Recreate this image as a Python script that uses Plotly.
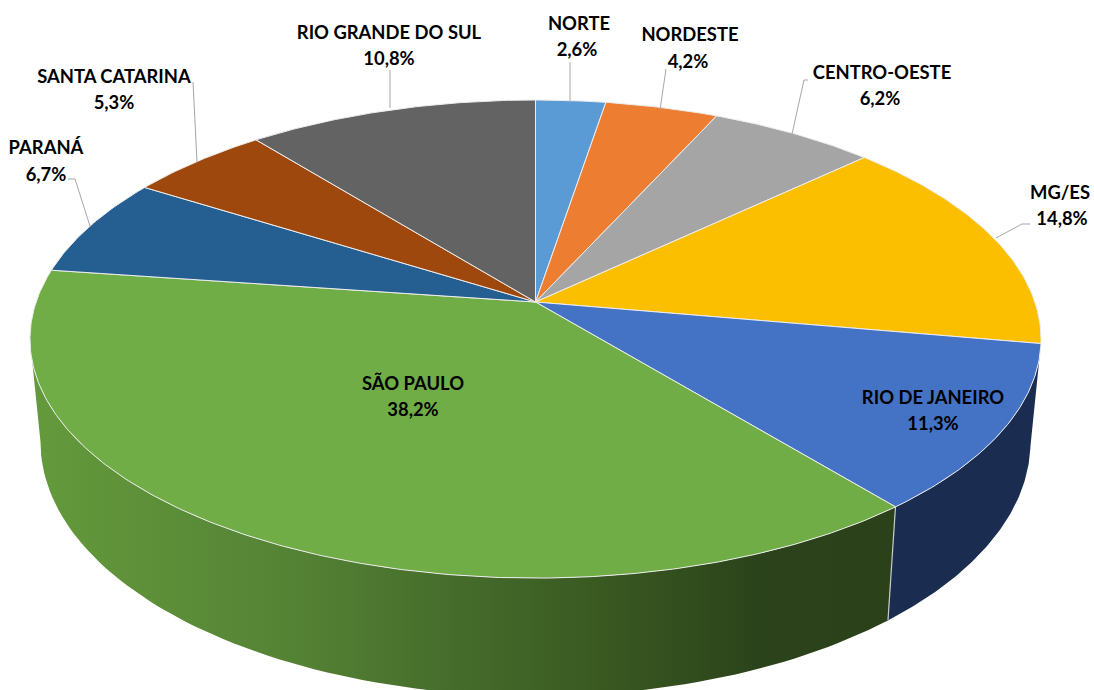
import numpy as np
import plotly.graph_objects as go

# ---- data ----
categories = ["NORTE", "NORDESTE", "CENTRO-OESTE", "MG/ES", "RIO DE JANEIRO",
              "SÃO PAULO", "PARANÁ", "SANTA CATARINA", "RIO GRANDE DO SUL"]
values = [2.6, 4.2, 6.2, 14.8, 11.3, 38.2, 6.7, 5.3, 10.8]
colors = ["#5B9BD5", "#ED7D31", "#A5A5A5", "#FBBF00", "#4472C4",
          "#70AD47", "#255E91", "#9E480E", "#636363"]
name_pos = [(579, 25), (690, 36), (882, 74), (1060, 194), (933, 399),
            (413, 385), (46, 149), (114, 78), (389, 34)]
pct_pos = [(577, 51), (688, 63), (880, 100), (1062, 220), (933, 425),
           (413, 411), (46, 176), (114, 104), (389, 60)]
leaders = [[(570, 62), (570, 102)],
           [(666, 69), (660, 110)],
           [(808, 80), (804, 80), (792, 134)],
           [(1030, 224), (1022, 224), (996, 238)],
           [(193, 82), (197, 162)],
           [(68, 179), (75, 179), (90, 226)],
           [(390, 70), (390, 108)]]

# ---- perspective of the disc ----
CX, K = 535.5, 0.155
TOP = dict(a=499.4, b=233.3, y0=302.0)
BOT = dict(a=489.0, b=248.0, y0=402.6)


def ring(theta_deg, d):
    t = np.radians(theta_deg)
    u, v = np.sin(t), -np.cos(t)
    w = 1 - K * v
    return CX + d["a"] * u / w, d["y0"] + d["b"] * v / w


edges = np.cumsum([0] + values) / sum(values) * 360
RIM = "#EDEDED"
fig = go.Figure()


def side(t0, t1, **kw):
    th = np.linspace(t0, t1, 90)
    xa, ya = ring(th, TOP)
    xb, yb = ring(th[::-1], BOT)
    fig.add_trace(go.Scatter(x=np.r_[xa, xb, xa[0]], y=np.r_[ya, yb, ya[0]], mode="lines",
                             fill="toself", line=dict(width=0), hoverinfo="skip",
                             showlegend=False, **kw))


rio = categories.index("RIO DE JANEIRO")
sp = categories.index("SÃO PAULO")
side(edges[rio], edges[rio + 1], fillcolor="#1A2D50")
side(edges[sp], 261.0, fillgradient=dict(
    type="horizontal",
    colorscale=[[0, "#649A3C"], [0.3, "#558335"], [0.5, "#456B2B"], [0.65, "#3A5A22"],
                [0.85, "#2B421A"], [1, "#2B411A"]]))

# split between the two visible side walls
xs = [ring(edges[sp], TOP)[0], ring(edges[sp], BOT)[0]]
ys = [ring(edges[sp], TOP)[1], ring(edges[sp], BOT)[1]]
fig.add_trace(go.Scatter(x=xs, y=ys, mode="lines", line=dict(color="#C8C8C8", width=1.2),
                         hoverinfo="skip", showlegend=False))

# top face
ax, ay = CX, TOP["y0"]
for i, cat in enumerate(categories):
    th = np.linspace(edges[i], edges[i + 1], max(8, int(values[i] * 6)))
    x, y = ring(th, TOP)
    fig.add_trace(go.Scatter(x=np.r_[ax, x, ax], y=np.r_[ay, y, ay], mode="lines", fill="toself",
                             fillcolor=colors[i], line=dict(color=RIM, width=1),
                             name=cat, hoverinfo="skip", showlegend=False))

# leaders
for pts in leaders:
    fig.add_trace(go.Scatter(x=[p[0] for p in pts], y=[p[1] for p in pts], mode="lines",
                             line=dict(color="#A6A6A6", width=1), hoverinfo="skip",
                             showlegend=False))

# labels
font = dict(family="Lato", size=18.4, color="#000000", weight="bold")
pct_labels = [f"{v:.1f}%".replace(".", ",") for v in values]
fig.add_trace(go.Scatter(x=[p[0] for p in name_pos], y=[p[1] for p in name_pos], mode="text",
                         text=categories, textposition="middle center", textfont=font,
                         hoverinfo="skip", showlegend=False))
fig.add_trace(go.Scatter(x=[p[0] for p in pct_pos], y=[p[1] for p in pct_pos], mode="text",
                         text=pct_labels, textposition="middle center", textfont=font,
                         hoverinfo="skip", showlegend=False))

fig.update_layout(width=1094, height=690, margin=dict(l=0, r=0, t=0, b=0),
                  paper_bgcolor="white", plot_bgcolor="white",
                  xaxis=dict(range=[0, 1094], visible=False, fixedrange=True),
                  yaxis=dict(range=[690, 0], visible=False, fixedrange=True))
fig.write_html("out.html", config={"displayModeBar": False},
               post_script="document.body.style.margin='0';document.body.style.overflow='hidden';")
